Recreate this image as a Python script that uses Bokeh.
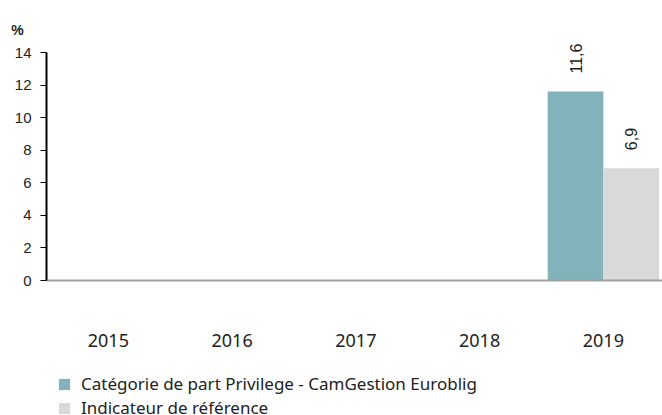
from math import pi
from bokeh.plotting import figure
from bokeh.models import (ColumnDataSource, Range1d, Legend, LegendItem,
                          Label, FixedTicker)
from bokeh.transform import dodge
from bokeh.core.properties import value
from bokeh.embed import file_html
from bokeh.resources import INLINE

years = ["2015", "2016", "2017", "2018", "2019"]
fund = [float("nan"), float("nan"), float("nan"), float("nan"), 11.6]
bench = [float("nan"), float("nan"), float("nan"), float("nan"), 6.9]
fund_lbl = ["", "", "", "", "11,6"]
bench_lbl = ["", "", "", "", "6,9"]
series_names = ["Catégorie de part Privilege - CamGestion Euroblig", "Indicateur de référence"]
y_ticks = [0, 2, 4, 6, 8, 10, 12, 14]

pos = list(range(len(years)))
src = ColumnDataSource(dict(pos=pos, fund=fund, bench=bench,
                            fund_lbl=fund_lbl, bench_lbl=bench_lbl))

W, H = 662, 415
# pixel layout: category slot width, y scale
slot = 123.75
x0 = -0.5 - 46 / slot
ppu = 228 / 14.0
p = figure(x_range=Range1d(x0, x0 + W / slot),
           y_range=Range1d(-(H - 280) / ppu, 14 + 52 / ppu),
           width=W, height=H, output_backend="svg", toolbar_location=None,
           min_border=0)
p.outline_line_color = None
p.grid.visible = False
p.background_fill_color = "white"
p.border_fill_color = "white"

r1 = p.vbar(x=dodge("pos", -0.225), top="fund", width=0.45,
            source=src, fill_color="#82B3BA", line_color=None)
r2 = p.vbar(x=dodge("pos", 0.225), top="bench", width=0.45,
            source=src, fill_color="#D9D9D9", line_color=None)

for col, lbl, off in (("fund", "fund_lbl", -0.225), ("bench", "bench_lbl", 0.225)):
    p.text(x=dodge("pos", off), y=col, text=lbl, source=src,
           angle=pi / 2, text_align="left", text_baseline="middle", y_offset=-18,
           text_font=value("Liberation Sans"), text_font_size="16px", text_color="#222222")

# y axis
ya = p.yaxis[0]
ya.fixed_location = -0.5
ya.bounds = (0, 14)
ya.ticker = FixedTicker(ticks=y_ticks)
ya.axis_line_color = "black"
ya.axis_line_width = 2
ya.major_tick_line_color = "black"
ya.major_tick_in = 0
ya.major_tick_out = 6
ya.minor_tick_line_color = None
ya.major_label_text_font = "Liberation Sans"
ya.major_label_text_font_size = "15px"
ya.major_label_text_color = "#222222"
ya.major_label_standoff = 9

# x axis
xa = p.xaxis[0]
xa.fixed_location = 0
xa.bounds = (-0.5, len(years) - 0.5)
xa.ticker = FixedTicker(ticks=pos)
xa.major_label_overrides = {i: y for i, y in zip(pos, years)}
xa.axis_line_color = "#A0A0A0"
xa.axis_line_width = 2
xa.major_tick_line_color = None
xa.minor_tick_line_color = None
xa.major_label_standoff = 47
xa.major_label_text_font = "Noto Sans"
xa.major_label_text_font_size = "18px"
xa.major_label_text_color = "#222222"

# percent label
p.add_layout(Label(x=17, y=H - 29, x_units="screen", y_units="screen", text="%",
                   text_font="Liberation Sans", text_font_style="bold", text_font_size="14px",
                   text_color="#222222", text_align="center", text_baseline="middle"))

legend = Legend(items=[LegendItem(label=series_names[0], renderers=[r1]),
                       LegendItem(label=series_names[1], renderers=[r2])],
                location=(57, -4), orientation="vertical",
                label_text_font="Noto Sans", label_text_font_size="17px",
                label_text_color="#222222", glyph_width=14, glyph_height=14,
                label_height=14, spacing=1, padding=0, margin=0,
                border_line_color=None, background_fill_alpha=0,
                label_standoff=10)
p.add_layout(legend)

open("out.html", "w").write(file_html(p, INLINE))
